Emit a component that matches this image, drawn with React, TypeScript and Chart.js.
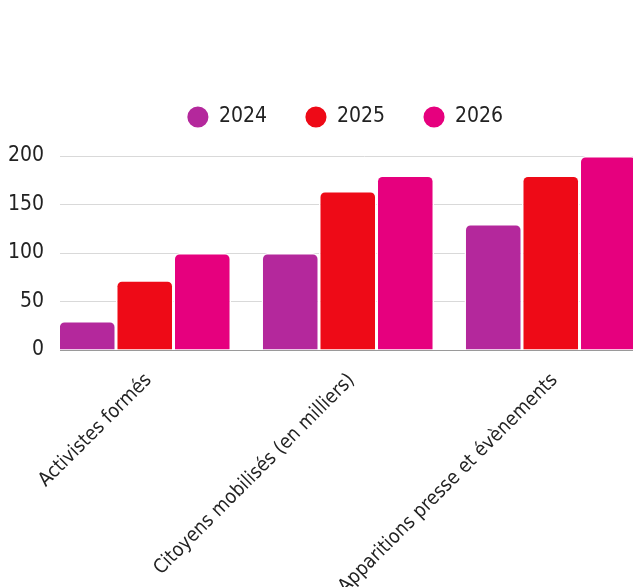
import React, { useEffect, useRef } from 'react';
import { Chart, registerables } from 'chart.js';

Chart.register(...registerables);

const categories = ['Activistes formés', 'Citoyens mobilisés (en milliers)', 'Apparitions presse et évènements'];
const seriesLabels = ['2024', '2025', '2026'];
const values2024 = [30, 100, 130];
const values2025 = [72, 164, 180];
const values2026 = [100, 180, 200];
const yTickValues = [0, 50, 100, 150, 200];

const seriesColors = ['#B4289C', '#EE0A17', '#E6007E'];
const FONT = "'DejaVu Sans Condensed', 'Liberation Sans Narrow', 'Roboto', sans-serif";
const TEXT = '#222222';

const legendSpacer = {
  id: 'legendSpacer',
  beforeInit(chart: any) {
    const lg = chart.legend;
    if (!lg || lg.__spaced) return;
    const orig = lg.fit;
    lg.fit = function () {
      orig.call(this);
      this.height += 18.5;
    };
    lg.__spaced = true;
  },
};

export default function App() {
  const ref = useRef<HTMLCanvasElement | null>(null);

  useEffect(() => {
    if (!ref.current) return;
    const seriesValues = [values2024, values2025, values2026];
    const chart = new Chart(ref.current, {
      type: 'bar',
      data: {
        labels: categories,
        datasets: seriesLabels.map((label, i) => ({
          label,
          data: seriesValues[i],
          backgroundColor: seriesColors[i],
          borderColor: '#ffffff',
          borderWidth: 1.5,
          borderRadius: 6,
          borderSkipped: 'start',
          categoryPercentage: 0.85,
          barPercentage: 1,
        })),
      },
      options: {
        animation: false,
        responsive: true,
        maintainAspectRatio: false,
        layout: { padding: { top: 68, left: 21.5, right: 11, bottom: 0 } },
        font: { family: FONT },
        plugins: {
          tooltip: { enabled: false },
          legend: {
            position: 'top',
            labels: {
              usePointStyle: true,
              pointStyle: 'circle',
              boxWidth: 24,
              boxHeight: 16,
              padding: 38.5,
              color: TEXT,
              font: { family: FONT, size: 21 },
            },
          },
        },
        scales: {
          x: {
            offset: true,
            grid: { display: false },
            border: { display: true, color: '#9a9a9a', width: 1 },
            ticks: {
              color: TEXT,
              font: { family: FONT, size: 19.5 },
              minRotation: 45,
              maxRotation: 45,
              autoSkip: false,
              padding: 11,
              labelOffset: 4,
            },
            afterBuildTicks: (s: any) => {
              s._startValue = -0.4175;
              s._valueRange = categories.length;
            },
            afterFit: (s: any) => {
              s.height = 250;
            },
          },
          y: {
            min: 0,
            max: 200,
            ticks: {
              stepSize: 50,
              color: TEXT,
              font: { family: FONT, size: 21 },
              padding: 16,
            },
            afterBuildTicks: (s: any) => {
              s.ticks = yTickValues.map((v) => ({ value: v }));
            },
            grid: { color: '#d9d9d9', drawTicks: false, lineWidth: 1 },
            border: { display: false },
            afterFit: (s: any) => {
              s.width = 38.5;
              s._computeLabelArea = () => undefined;
            },
          },
        },
      },
      plugins: [legendSpacer],
    } as any);
    return () => chart.destroy();
  }, []);

  return (
    <div style={{ position: 'absolute', left: 0, top: 0, width: 633, height: 587, overflow: 'hidden', background: '#fff' }}>
      <div style={{ position: 'absolute', left: 0, top: 0, width: 680, height: 600 }}>
        <canvas ref={ref} />
      </div>
    </div>
  );
}
